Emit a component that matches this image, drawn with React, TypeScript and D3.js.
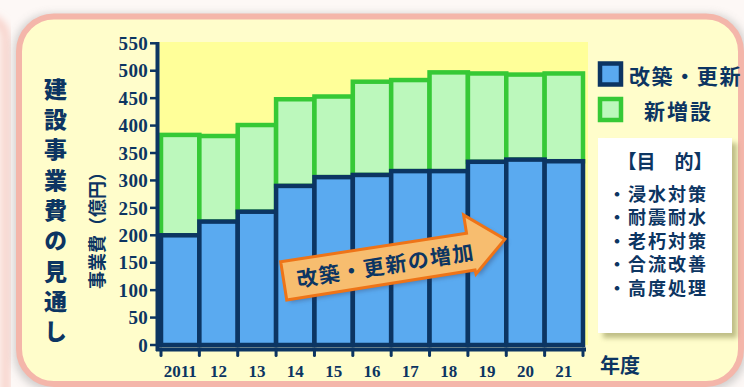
import React from "react";
import * as d3 from "d3";

const years = ["2011", "12", "13", "14", "15", "16", "17", "18", "19", "20", "21"];
const renewal = [200, 225, 243, 290, 306, 310, 317, 317, 334, 338, 335];
const newConstruction = [183, 156, 158, 158, 147, 170, 166, 180, 161, 155, 160];
const yTicks = [0, 50, 100, 150, 200, 250, 300, 350, 400, 450, 500, 550];
const titleText = "建設事業費の見通し";
const purposes = ["浸水対策", "耐震耐水", "老朽対策", "合流改善", "高度処理"];
const legendLabels = ["改築・更新", "新増設"];

const NAVY = "#0c3562";
const BLUE = "#5aaaf0";
const GREEN_FILL = "#bcf8bc";
const GREEN = "#36c936";
const JP = "'Noto Sans CJK JP', 'Noto Sans', sans-serif";
const SERIF = "'Liberation Serif', 'Times New Roman', serif";

export default function App() {
  const rows = years.map((y, i) => ({ year: y, renewal: renewal[i], newc: newConstruction[i] }));
  const stack = d3.stack<any>().keys(["renewal", "newc"])(rows);
  const x = d3.scaleBand<string>().domain(years).range([161, 583]).padding(0);
  const y = d3.scaleLinear().domain([0, 550]).range([345, 43.3]);
  const bw = x.bandwidth();
  const boundaries = years.map((yr) => x(yr) as number).concat([583]);

  return (
    <svg width={744} height={387} style={{ position: "absolute", left: 0, top: 0, background: "#fdf8f6" }}>
      <defs>
        <filter id="panelShadow" x="-10%" y="-10%" width="120%" height="120%">
          <feGaussianBlur stdDeviation="4" />
        </filter>
        <filter id="boxShadow" x="-20%" y="-20%" width="140%" height="140%">
          <feGaussianBlur stdDeviation="2.5" />
        </filter>
        <filter id="arrowShadow" x="-20%" y="-40%" width="140%" height="180%">
          <feGaussianBlur stdDeviation="2" />
        </filter>
      </defs>
      {/* left neighbour panel */}
      <rect x={-40} y={18} width={46} height={400} rx={20} fill="#fdf3ee" stroke="#f4b6aa" strokeWidth={5} filter="url(#panelShadow)" />
      {/* panel shadow */}
      <rect x={14} y={14} width={732} height={376} rx={36} fill="#999" opacity={0.45} filter="url(#panelShadow)" />
      <rect x={19} y={16.5} width={722} height={367.5} rx={35} fill="#fffdcb" stroke="#f4b6aa" strokeWidth={6} />

      {/* plot background */}
      <rect x={157} y={42} width={431} height={303} fill="#ffff99" />

      {/* new construction bars */}
      {stack[1].map((d, i) => (
        <rect key={"g" + i} x={x(years[i])} y={y(d[1])} width={bw} height={y(d[0]) - y(d[1])}
          fill={GREEN_FILL} stroke={GREEN} strokeWidth={4.5} />
      ))}
      {/* renewal bars */}
      {stack[0].map((d, i) => (
        <rect key={"b" + i} x={x(years[i])} y={y(d[1])} width={bw} height={y(d[0]) - y(d[1])}
          fill={BLUE} stroke={NAVY} strokeWidth={4.5} />
      ))}

      {/* y axis */}
      <line x1={157.5} x2={157.5} y1={42} y2={351} stroke={NAVY} strokeWidth={4} />
      {yTicks.map((t) => (
        <g key={t}>
          <line x1={150} x2={157} y1={y(t)} y2={y(t)} stroke={NAVY} strokeWidth={2.5} />
          <text x={148} y={y(t)} dy="0.35em" textAnchor="end" fontFamily={SERIF} fontWeight={700}
            fontSize={19} letterSpacing={0.3} fill={NAVY}>{t}</text>
        </g>
      ))}

      {/* x axis */}
      <line x1={156} x2={586} y1={349.5} y2={349.5} stroke={NAVY} strokeWidth={4} />
      {boundaries.map((b, i) => (
        <line key={i} x1={b} x2={b} y1={349} y2={355.5} stroke={NAVY} strokeWidth={3} strokeLinecap="round" />
      ))}
      {years.map((yr) => (
        <text key={yr} x={(x(yr) as number) + bw / 2} y={377} textAnchor="middle" fontFamily={SERIF}
          fontWeight={700} fontSize={17} fill={NAVY}>{yr}</text>
      ))}
      <text x={600} y={373} fontFamily={JP} fontWeight={700} fontSize={20} fill={NAVY}>年度</text>

      {/* title */}
      <text x={55.5} y={77.5} style={{ writingMode: "vertical-rl" } as any} fontFamily={JP}
        fontWeight={900} fontSize={23} letterSpacing={7.3} fill={NAVY}>{titleText}</text>

      {/* y axis label */}
      <text transform="translate(97.5,226) rotate(-90)" textAnchor="middle" dy="0.36em" fontFamily={JP}
        fontWeight={700} fontSize={18} fill={NAVY}>事業費（億円）</text>

      {/* legend */}
      <rect x={600} y={63.5} width={21} height={21} fill={BLUE} stroke={NAVY} strokeWidth={4.5} />
      <text x={629} y={76} dy="0.36em" fontFamily={JP} fontWeight={700} fontSize={21} letterSpacing={1.6}
        fill={NAVY}>{legendLabels[0]}</text>
      <rect x={600} y={99} width={21} height={21} fill={GREEN_FILL} stroke={GREEN} strokeWidth={4.5} />
      <text x={644} y={111} dy="0.36em" fontFamily={JP} fontWeight={700} fontSize={21} letterSpacing={2}
        fill={NAVY}>{legendLabels[1]}</text>

      {/* purpose box */}
      <rect x={603} y={143} width={134} height={195} fill="#8a8a50" opacity={0.55} filter="url(#boxShadow)" />
      <rect x={598} y={138} width={134} height={195} fill="#ffffff" />
      <text x={665} y={162.5} dy="0.36em" textAnchor="middle" fontFamily={JP} fontWeight={700} fontSize={19}
        fill={NAVY}>【目　的】</text>
      {purposes.map((p, i) => (
        <text key={p} x={608} y={194.5 + i * 23.5} dy="0.36em" fontFamily={JP} fontWeight={700} fontSize={18}
          letterSpacing={2} fill={NAVY}>{"・" + p}</text>
      ))}

      {/* arrow */}
      <g transform="translate(283.7,280.8) rotate(-9)">
        <polygon points="3,-16.3 191,-15.4 191,-34 228,-3.5 194,26.3 193.7,22.2 3,22.4"
          fill="#335" opacity={0.35} filter="url(#arrowShadow)" />
        <polygon points="0,-19.3 188,-18.4 188,-37 225,-6.5 191,23.3 190.7,19.2 0,19.4"
          fill="#f7bd6f" stroke="#ee7418" strokeWidth={3} strokeLinejoin="miter" />
        <text x={103} y={1} dy="0.36em" textAnchor="middle" fontFamily={JP} fontWeight={700} fontSize={21}
          letterSpacing={1.5} fill={NAVY}>改築・更新の増加</text>
      </g>
    </svg>
  );
}
